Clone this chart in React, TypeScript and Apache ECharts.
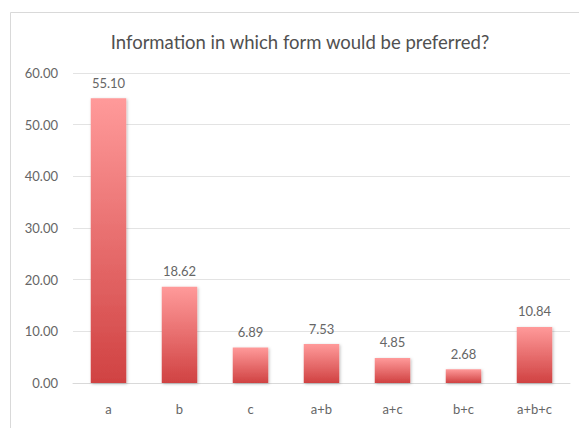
import React, { useEffect, useRef } from "react";
import * as echarts from "echarts";

const categories = ["a", "b", "c", "a+b", "a+c", "b+c", "a+b+c"];
const values = [55.1, 18.62, 6.89, 7.53, 4.85, 2.68, 10.84];
const yTicks = { min: 0, max: 60, interval: 10 };
const titleText = "Information in which form would be preferred?";

export default function App() {
  const ref = useRef<HTMLDivElement>(null);
  useEffect(() => {
    if (!ref.current) return;
    const chart = echarts.init(ref.current, null, { renderer: "svg" });
    const font = "Lato, 'Noto Sans', sans-serif";
    chart.setOption({
      animation: false,
      backgroundColor: "#ffffff",
      textStyle: { fontFamily: font },
      graphic: [
        {
          type: "rect",
          shape: { x: 10.5, y: 12.5, width: 700, height: 600 },
          style: { fill: "none", stroke: "#d9d9d9", lineWidth: 1 },
          silent: true,
        },
        {
          type: "text",
          x: 300,
          y: 42,
          style: {
            text: titleText,
            fontFamily: font,
            fontSize: 18.5,
            fontWeight: "normal",
            fill: "#505050",
            textAlign: "center",
            textVerticalAlign: "middle",
          },
        },
      ],
      grid: { left: 73, right: 9, top: 73, bottom: 45 },
      xAxis: {
        type: "category",
        data: categories,
        axisLine: { lineStyle: { color: "#d9d9d9" } },
        axisTick: { show: false },
        axisLabel: { color: "#666666", fontSize: 13, margin: 19, fontFamily: font },
      },
      yAxis: {
        type: "value",
        min: yTicks.min,
        max: yTicks.max,
        interval: yTicks.interval,
        axisLine: { show: false },
        axisTick: { show: false },
        splitLine: { lineStyle: { color: "#e3e3e3" } },
        axisLabel: {
          color: "#666666",
          fontSize: 13,
          margin: 15,
          fontFamily: font,
          formatter: (v: number) => v.toFixed(2),
        },
      },
      series: [
        {
          type: "bar",
          data: values,
          barWidth: "50%",
          itemStyle: {
            color: new echarts.graphic.LinearGradient(0, 0, 0, 1, [
              { offset: 0, color: "#ff9a9a" },
              { offset: 1, color: "#d04242" },
            ]),
            shadowBlur: 3,
            shadowColor: "rgba(0,0,0,0.25)",
            shadowOffsetX: 1,
            shadowOffsetY: 1,
          },
          label: {
            show: true,
            position: "top",
            distance: 9,
            color: "#666666",
            fontSize: 13,
            fontFamily: font,
            formatter: (p: any) => Number(p.value).toFixed(2),
          },
        },
      ],
    });
    return () => chart.dispose();
  }, []);
  return (
    <div
      ref={ref}
      style={{ position: "fixed", left: 0, top: 0, width: 579, height: 428 }}
    />
  );
}
